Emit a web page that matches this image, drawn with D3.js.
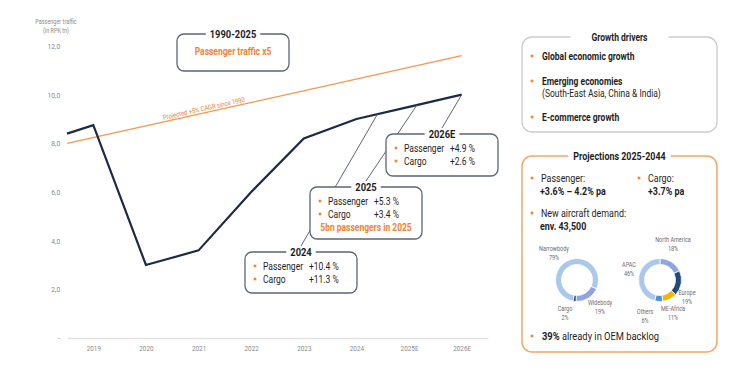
<!DOCTYPE html>
<html>
<head>
<meta charset="utf-8">
<script src="https://cdn.jsdelivr.net/npm/d3@7"></script>
<style>
  body { margin: 0; background: #fff; }
  svg { display: block; font-family: Roboto, "DejaVu Sans", sans-serif; }
</style>
</head>
<body>
<div id="chart"></div>
<script>
// ---- data ----
const years = [2018.5, 2019, 2020, 2021, 2022, 2023, 2024, 2025, 2026];
const traffic = [8.4, 8.75, 3.0, 3.6, 6.0, 8.2, 9.0, 9.5, 10.0];

const projYears = [2018.5, 2026];
const projTraffic = [8.0, 11.6];
const projLabel = "Projected +5% CAGR since 1990";

const tickYears = [2019, 2020, 2021, 2022, 2023, 2024, 2025, 2026];
const tickLabels = ["2019", "2020", "2021", "2022", "2023", "2024", "2025E", "2026E"];
const yTicks = [0, 2, 4, 6, 8, 10, 12];

const noteTitles = ["1990-2025", "2026E", "2025", "2024"];
const notePassenger = [null, "+4.9 %", "+5.3 %", "+10.4 %"];
const noteCargo = [null, "+2.6 %", "+3.4 %", "+11.3 %"];
const noteExtra = ["Passenger traffic x5", null, "5bn passengers in 2025", null];
const noteAnchorYears = [null, 2026, 2025.15, 2024.4];

const drivers = ["Global economic growth", "Emerging economies", "E-commerce growth"];
const driverNotes = [null, "(South-East Asia, China & India)", null];

const fleetLabels = ["Narrowbody", "Widebody", "Cargo"];
const fleetShares = [79, 19, 2];
const regionLabels = ["North America", "Europe", "ME-Africa", "Others", "APAC"];
const regionShares = [18, 19, 11, 6, 46];

// ---- style / layout ----
const width = 750, height = 375;
const SX = 0.85; // condensed look
const INK = "#1e1e1e", GREY = "#8a8a8a", ORANGE = "#f5822f", NAVY = "#1c2b45", BOX = "#5c6676";
const margin = { top: 46, left: 67, right: 262, bottom: 37 };

const noteBoxes = [
  { x: 177, y: 34, h: 37 },
  { x: 386, y: 134, h: 42 },
  { x: 310, y: 187, h: 52 },
  { x: 245, y: 252, h: 41 }
];
const noteW = 112;

const fleetColors = ["#a9c8ec", "#8ea5df", "#1f3a5f"];
const regionColors = ["#8ea5df", "#1f4a7a", "#f4b400", "#4a8fd8", "#a9c8ec"];
const fleetOffsets = [[-23, -31], [23, 23], [-12, 29]];
const regionOffsets = [[13, -40], [27, 13], [13, 29], [-15, 32], [-31, -15]];

const svg = d3.select("#chart").append("svg")
  .attr("width", width)
  .attr("height", height);

function addText(sel, x, y, str, o = {}) {
  return sel.append("text")
    .attr("transform", `translate(${x},${y})${o.rotate ? ` rotate(${o.rotate})` : ""} scale(${SX},1)`)
    .attr("dy", "0.35em")
    .attr("text-anchor", o.anchor || "start")
    .attr("font-size", o.size || 10)
    .attr("font-weight", o.weight || 400)
    .attr("fill", o.fill || INK)
    .text(str);
}

function bullet(sel, x, y) {
  sel.append("rect")
    .attr("x", x - 1.3).attr("y", y - 1.3)
    .attr("width", 2.6).attr("height", 2.6)
    .attr("fill", ORANGE);
}

// rounded box with its title sitting in a gap of the top border
function titledBox(sel, x, y, w, h, title, o = {}) {
  sel.append("rect")
    .attr("x", x).attr("y", y).attr("width", w).attr("height", h)
    .attr("rx", o.rx || 7)
    .attr("fill", "#fff")
    .attr("stroke", o.stroke || BOX)
    .attr("stroke-width", o.strokeWidth || 1.3);
  const gap = sel.append("rect").attr("fill", "#fff");
  const t = addText(sel, x + w / 2, y, title, { size: o.size || 11, weight: 700, anchor: "middle" });
  const tw = t.node().getComputedTextLength() * SX + 2 * (o.pad || 4);
  gap.attr("x", x + w / 2 - tw / 2).attr("y", y - 3).attr("width", tw).attr("height", 6);
}

// ---- scales ----
const x = d3.scaleLinear()
  .domain([2018.5, 2026.5])
  .range([margin.left, width - margin.right]);
const y = d3.scaleLinear()
  .domain([0, 12])
  .range([height - margin.bottom, margin.top]);
const along = d3.scaleLinear().domain(years).range(traffic);

// ---- axes ----
const yAxis = svg.append("g")
  .attr("transform", `translate(${margin.left},0)`)
  .call(d3.axisLeft(y).tickValues(yTicks).tickSize(0).tickPadding(8)
    .tickFormat(d => d === 0 ? "-" : d3.format(".1f")(d).replace(".", ",")));
yAxis.select(".domain").remove();
yAxis.selectAll("text")
  .attr("font-family", "Roboto, sans-serif")
  .attr("font-size", 8)
  .attr("fill", GREY)
  .attr("transform", `scale(${SX},1)`);

const xAxis = svg.append("g")
  .attr("transform", `translate(0,${y(0)})`)
  .call(d3.axisBottom(x).tickValues(tickYears).tickSize(0).tickPadding(8)
    .tickFormat((d, i) => tickLabels[i]));
xAxis.select(".domain").attr("stroke", "#e2e2e2").attr("stroke-width", 1.5);
xAxis.selectAll(".tick text")
  .attr("font-family", "Roboto, sans-serif")
  .attr("font-size", 7.5)
  .attr("fill", GREY)
  .attr("transform", `scale(${SX},1)`);

addText(svg, 56, 22, "Passenger traffic", { size: 6.5, fill: GREY, anchor: "middle" });
addText(svg, 56, 31, "(in RPK tn)", { size: 6.5, fill: GREY, anchor: "middle" });

// ---- projected trend ----
svg.append("path")
  .datum(projYears.map((yr, i) => [yr, projTraffic[i]]))
  .attr("fill", "none")
  .attr("stroke", "#f7954f")
  .attr("stroke-width", 1.3)
  .attr("d", d3.line().x(d => x(d[0])).y(d => y(d[1])));

const projAt = d3.scaleLinear().domain(projYears).range(projTraffic);
const ang = Math.atan2(y(projTraffic[1]) - y(projTraffic[0]), x(projYears[1]) - x(projYears[0])) * 180 / Math.PI;
addText(svg, x(2021.1), y(projAt(2021.1)) - 4.5, projLabel, { size: 6.9, fill: ORANGE, anchor: "middle", rotate: ang });

// ---- traffic line ----
svg.append("path")
  .datum(years.map((yr, i) => [yr, traffic[i]]))
  .attr("fill", "none")
  .attr("stroke", NAVY)
  .attr("stroke-width", 2.2)
  .attr("stroke-linejoin", "miter")
  .attr("d", d3.line().x(d => x(d[0])).y(d => y(d[1])));

// ---- annotation leaders, then boxes ----
noteTitles.forEach((t, i) => {
  if (noteAnchorYears[i] == null) return;
  const b = noteBoxes[i];
  svg.append("line")
    .attr("x1", x(noteAnchorYears[i])).attr("y1", y(along(noteAnchorYears[i])))
    .attr("x2", b.x + noteW / 2).attr("y2", b.y - 6)
    .attr("stroke", BOX).attr("stroke-width", 1);
});

noteTitles.forEach((t, i) => {
  const b = noteBoxes[i];
  const g = svg.append("g");
  titledBox(g, b.x, b.y, noteW, b.h, t, { pad: 4 });
  if (notePassenger[i]) {
    bullet(g, b.x + 10, b.y + 14);
    addText(g, b.x + 18, b.y + 14, "Passenger");
    addText(g, b.x + 64, b.y + 14, notePassenger[i]);
    bullet(g, b.x + 10, b.y + 27);
    addText(g, b.x + 18, b.y + 27, "Cargo");
    addText(g, b.x + 64, b.y + 27, noteCargo[i]);
  }
  if (noteExtra[i]) {
    const ey = notePassenger[i] ? b.y + 40 : b.y + 17;
    addText(g, b.x + noteW / 2, ey, noteExtra[i], { weight: 700, fill: ORANGE, anchor: "middle" });
  }
});

// ---- right panel: growth drivers ----
const gd = svg.append("g");
titledBox(gd, 522, 37, 195, 95, "Growth drivers", { rx: 10, stroke: "#cbcbcb", size: 10, pad: 21 });
const driverY = [56, 81, 117];
drivers.forEach((d, i) => {
  bullet(gd, 532, driverY[i]);
  addText(gd, 542, driverY[i], d, { weight: 700 });
  if (driverNotes[i]) addText(gd, 542, driverY[i] + 12, driverNotes[i]);
});

// ---- right panel: projections ----
const pj = svg.append("g");
titledBox(pj, 522, 156, 195, 196, "Projections 2025-2044", { rx: 10, stroke: "#f7a56a", strokeWidth: 1.5, size: 10.5, pad: 5 });
bullet(pj, 532, 178);
addText(pj, 541, 178, "Passenger:", { size: 10.5 });
addText(pj, 540, 191, "+3.6% \u2013 4.2% pa", { size: 10.5, weight: 700 });
bullet(pj, 639, 178);
addText(pj, 648, 178, "Cargo:", { size: 10.5 });
addText(pj, 648, 191, "+3.7% pa", { size: 10.5, weight: 700 });
bullet(pj, 532, 213);
addText(pj, 541, 213, "New aircraft demand:", { size: 10.5 });
addText(pj, 540, 226, "env. 43,500", { size: 10.5, weight: 700 });

bullet(pj, 532, 336);
const bt = addText(pj, 542, 336, "", { size: 11 });
bt.append("tspan").attr("font-weight", 700).text("39%");
bt.append("tspan").text(" already in OEM backlog");

// ---- donuts ----
const arc = d3.arc().innerRadius(15.5).outerRadius(21.5);

function donut(cx, cy, labels, shares, colors, offsets, start) {
  const g = pj.append("g").attr("transform", `translate(${cx},${cy})`);
  const pie = d3.pie().sort(null).value(d => d)
    .startAngle(start).endAngle(start + 2 * Math.PI);
  g.selectAll("path")
    .data(pie(shares))
    .join("path")
    .attr("d", arc)
    .attr("fill", (d, i) => colors[i])
    .attr("stroke", "#fff")
    .attr("stroke-width", 0.8);
  labels.forEach((l, i) => {
    addText(g, offsets[i][0], offsets[i][1], l, { size: 6.5, fill: "#6b6b6b", anchor: "middle" });
    addText(g, offsets[i][0], offsets[i][1] + 8.5, shares[i] + "%", { size: 6.5, fill: "#6b6b6b", anchor: "middle" });
  });
}

donut(577, 280, fleetLabels, fleetShares, fleetColors, fleetOffsets, 190 * Math.PI / 180);
donut(660, 280, regionLabels, regionShares, regionColors, regionOffsets, 0);
</script>
</body>
</html>
